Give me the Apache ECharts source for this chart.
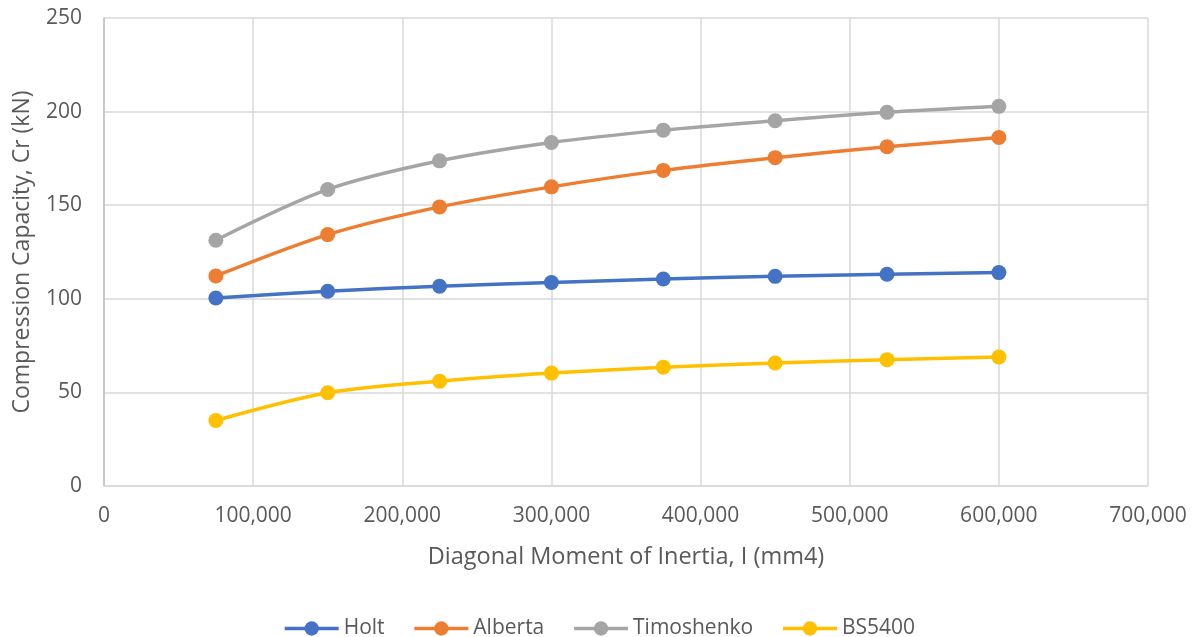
<!DOCTYPE html>
<html>
<head>
<meta charset="utf-8">
<script src="https://cdn.jsdelivr.net/npm/echarts@6/dist/echarts.min.js"></script>
<style>
  html, body { margin: 0; padding: 0; background: #fff; }
  #chart { width: 1198px; height: 637px; }
</style>
</head>
<body>
<div id="chart"></div>
<script>
// Diagonal moment of inertia (mm4)
const inertia = [75000, 150000, 225000, 300000, 375000, 450000, 525000, 600000];

// Compression capacity Cr (kN) by method
const holt       = [100.4, 104.0, 106.7, 108.7, 110.6, 112.0, 113.1, 114.0];
const alberta    = [112.2, 134.3, 149.1, 159.8, 168.6, 175.4, 181.2, 186.2];
const timoshenko = [131.3, 158.4, 173.7, 183.5, 190.1, 195.1, 199.6, 202.8];
const bs5400     = [35.0, 49.8, 56.0, 60.3, 63.5, 65.7, 67.5, 68.9];

const seriesNames  = ['Holt', 'Alberta', 'Timoshenko', 'BS5400'];
const seriesValues = [holt, alberta, timoshenko, bs5400];
const seriesColors = ['#4472C4', '#ED7D31', '#A5A5A5', '#FFC000'];

const FONT = 'Open Sans';
const TEXT = '#595959';

const chart = echarts.init(document.getElementById('chart'), null, { renderer: 'canvas' });

chart.setOption({
  animation: false,
  textStyle: { fontFamily: FONT },
  grid: { left: 104, right: 50, top: 18, bottom: 151, containLabel: false },
  legend: {
    top: 613,
    left: 'center',
    itemWidth: 54,
    itemHeight: 18,
    itemGap: 28,
    lineStyle: { width: 3.5 },
    textStyle: { fontFamily: FONT, fontSize: 21, color: TEXT },
    data: seriesNames
  },
  xAxis: {
    type: 'value',
    min: 0,
    max: 700000,
    interval: 100000,
    name: 'Diagonal Moment of Inertia, I (mm4)',
    nameLocation: 'middle',
    nameGap: 59,
    nameTextStyle: { fontFamily: FONT, fontSize: 23.5, color: TEXT },
    axisLine: { show: true, lineStyle: { color: '#d9d9d9', width: 1.5 } },
    axisTick: { show: false },
    axisLabel: {
      color: TEXT, fontSize: 21, fontFamily: FONT, margin: 20,
      formatter: v => v.toLocaleString('en-US')
    },
    splitLine: { show: true, lineStyle: { color: '#d9d9d9', width: 1.5 } }
  },
  yAxis: {
    type: 'value',
    min: 0,
    max: 250,
    interval: 50,
    name: 'Compression Capacity, Cr (kN)',
    nameLocation: 'middle',
    nameGap: 70,
    nameTextStyle: { fontFamily: FONT, fontSize: 23, color: TEXT },
    axisLine: { show: true, lineStyle: { color: '#bfbfbf', width: 1.5 } },
    axisTick: { show: false },
    axisLabel: { color: TEXT, fontSize: 21, fontFamily: FONT, margin: 22 },
    splitLine: { show: true, lineStyle: { color: '#d9d9d9', width: 1.5 } }
  },
  series: seriesNames.map((name, i) => ({
    name: name,
    type: 'line',
    smooth: 0.3,
    symbol: 'circle',
    symbolSize: 15,
    lineStyle: { color: seriesColors[i], width: 3.5 },
    itemStyle: { color: seriesColors[i] },
    data: inertia.map((x, j) => [x, seriesValues[i][j]])
  }))
});
</script>
</body>
</html>
